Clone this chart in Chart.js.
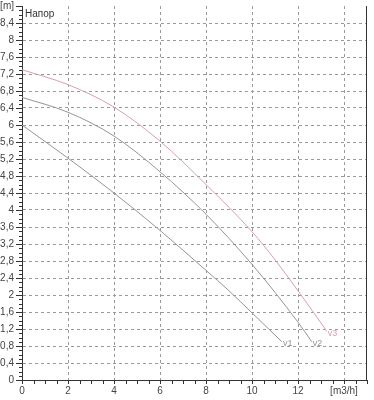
<!DOCTYPE html>
<html>
<head>
<meta charset="utf-8">
<script src="https://cdn.jsdelivr.net/npm/chart.js@4/dist/chart.umd.min.js"></script>
<style>
  html, body { margin: 0; padding: 0; background: #fff; }
  #wrap { width: 374px; height: 400px; }
</style>
</head>
<body>
<div id="wrap"><canvas id="myChart"></canvas></div>
<script>
// pump curves: flow [m3/h] -> head [m]
var flowV1 = [0, 2, 4, 6, 8, 9, 10, 11.3];
var headV1 = [6.0, 5.22, 4.4, 3.52, 2.58, 2.1, 1.58, 0.9];
var flowV2 = [0, 2, 4, 6, 8, 10, 12, 12.6];
var headV2 = [6.65, 6.3, 5.74, 4.9, 3.9, 2.72, 1.36, 0.9];
var flowV3 = [0, 2, 4, 6, 8, 10, 11, 12, 13.25];
var headV3 = [7.3, 6.95, 6.42, 5.62, 4.6, 3.49, 2.83, 2.1, 1.15];
var seriesNames = ['v1', 'v2', 'v3'];

var xTickLabels = ['0', '2', '4', '6', '8', '10', '12', '[m3/h]'];
var yTickLabels = ['0', '0,4', '0,8', '1,2', '1,6', '2', '2,4', '2,8', '3,2', '3,6', '4', '4,4',
                   '4,8', '5,2', '5,6', '6', '6,4', '6,8', '7,2', '7,6', '8', '8,4', '[m]'];

function toPoints(xs, ys) {
  var pts = [];
  for (var i = 0; i < xs.length; i++) pts.push({ x: xs[i], y: ys[i] });
  return pts;
}

var lineColors = ['#959595', '#959595', '#d6a0aa'];

var extras = {
  id: 'extras',
  afterDraw: function (chart) {
    var ctx = chart.ctx;
    var a = chart.chartArea;
    var xs = chart.scales.x, ys = chart.scales.y;
    ctx.save();
    ctx.strokeStyle = '#333';
    ctx.lineWidth = 1;
    ctx.beginPath();
    // y tick marks every 0.1
    for (var i = 0; i <= 88; i++) {
      var py = Math.round(ys.getPixelForValue(i / 10)) + 0.5;
      var len = (i % 4 === 0) ? 6 : 3;
      ctx.moveTo(a.left - len, py);
      ctx.lineTo(a.left, py);
    }
    // x tick marks every 0.5
    for (var j = 0; j <= 30; j++) {
      var px = Math.round(xs.getPixelForValue(j / 2)) + 0.5;
      ctx.moveTo(px, a.bottom);
      ctx.lineTo(px, a.bottom + 4);
    }
    // right frame
    ctx.moveTo(Math.round(a.right) - 0.5, a.top);
    ctx.lineTo(Math.round(a.right) - 0.5, a.bottom);
    ctx.stroke();

    ctx.fillStyle = '#333';
    ctx.font = '10px "Liberation Sans", Arial, sans-serif';
    ctx.textBaseline = 'middle';
    ctx.fillText('Напор', a.left + 3, a.top + 8);

    // series end labels
    ctx.font = '9px "Liberation Sans", Arial, sans-serif';
    chart.data.datasets.forEach(function (ds, k) {
      var last = ds.data[ds.data.length - 1];
      ctx.fillStyle = lineColors[k];
      ctx.fillText(seriesNames[k], xs.getPixelForValue(last.x) + 1, ys.getPixelForValue(last.y) + 2);
    });
    ctx.restore();
  }
};

var ctx = document.getElementById('myChart').getContext('2d');
var myChart = new Chart(ctx, {
  type: 'line',
  data: {
    datasets: [
      { label: 'v1', data: toPoints(flowV1, headV1), borderColor: lineColors[0] },
      { label: 'v2', data: toPoints(flowV2, headV2), borderColor: lineColors[1] },
      { label: 'v3', data: toPoints(flowV3, headV3), borderColor: lineColors[2] }
    ]
  },
  options: {
    responsive: true,
    maintainAspectRatio: false,
    animation: false,
    layout: { padding: { top: 0, right: 7, left: 0, bottom: 0 } },
    elements: {
      line: { borderWidth: 1, cubicInterpolationMode: 'monotone', fill: false },
      point: { radius: 0 }
    },
    plugins: { legend: { display: false }, tooltip: { enabled: false } },
    scales: {
      x: {
        type: 'linear',
        min: 0,
        max: 15,
        afterBuildTicks: function (scale) {
          var t = [];
          for (var i = 0; i < xTickLabels.length; i++) t.push({ value: i * 2 });
          scale.ticks = t;
        },
        afterFit: function (scale) { scale.height = 20; },
        ticks: {
          autoSkip: false,
          maxRotation: 0,
          padding: 5,
          color: '#444',
          font: { family: '"Liberation Sans", Arial, sans-serif', size: 10 },
          callback: function (v, i) { return xTickLabels[i]; }
        },
        grid: {
          drawTicks: false,
          color: function (c) { return (c.tick && c.tick.value > 0) ? '#9a9a9a' : 'rgba(0,0,0,0)'; }
        },
        border: { color: '#333', width: 1, dash: [3, 3] }
      },
      y: {
        type: 'linear',
        min: 0,
        max: 8.8,
        afterBuildTicks: function (scale) {
          var t = [];
          for (var i = 0; i < yTickLabels.length; i++) t.push({ value: Math.round(i * 4) / 10 });
          scale.ticks = t;
        },
        afterFit: function (scale) {
          scale.width = 22;
          scale.paddingTop = 6;
          scale.paddingBottom = 0;
        },
        ticks: {
          autoSkip: false,
          padding: 8,
          color: '#444',
          font: { family: '"Liberation Sans", Arial, sans-serif', size: 10 },
          callback: function (v, i) { return yTickLabels[i]; }
        },
        grid: {
          drawTicks: false,
          color: function (c) {
            return (c.tick && c.tick.value > 0 && c.tick.value < 8.6) ? '#9a9a9a' : 'rgba(0,0,0,0)';
          }
        },
        border: { color: '#333', width: 1, dash: [3, 3] }
      }
    }
  },
  plugins: [extras]
});
</script>
</body>
</html>
